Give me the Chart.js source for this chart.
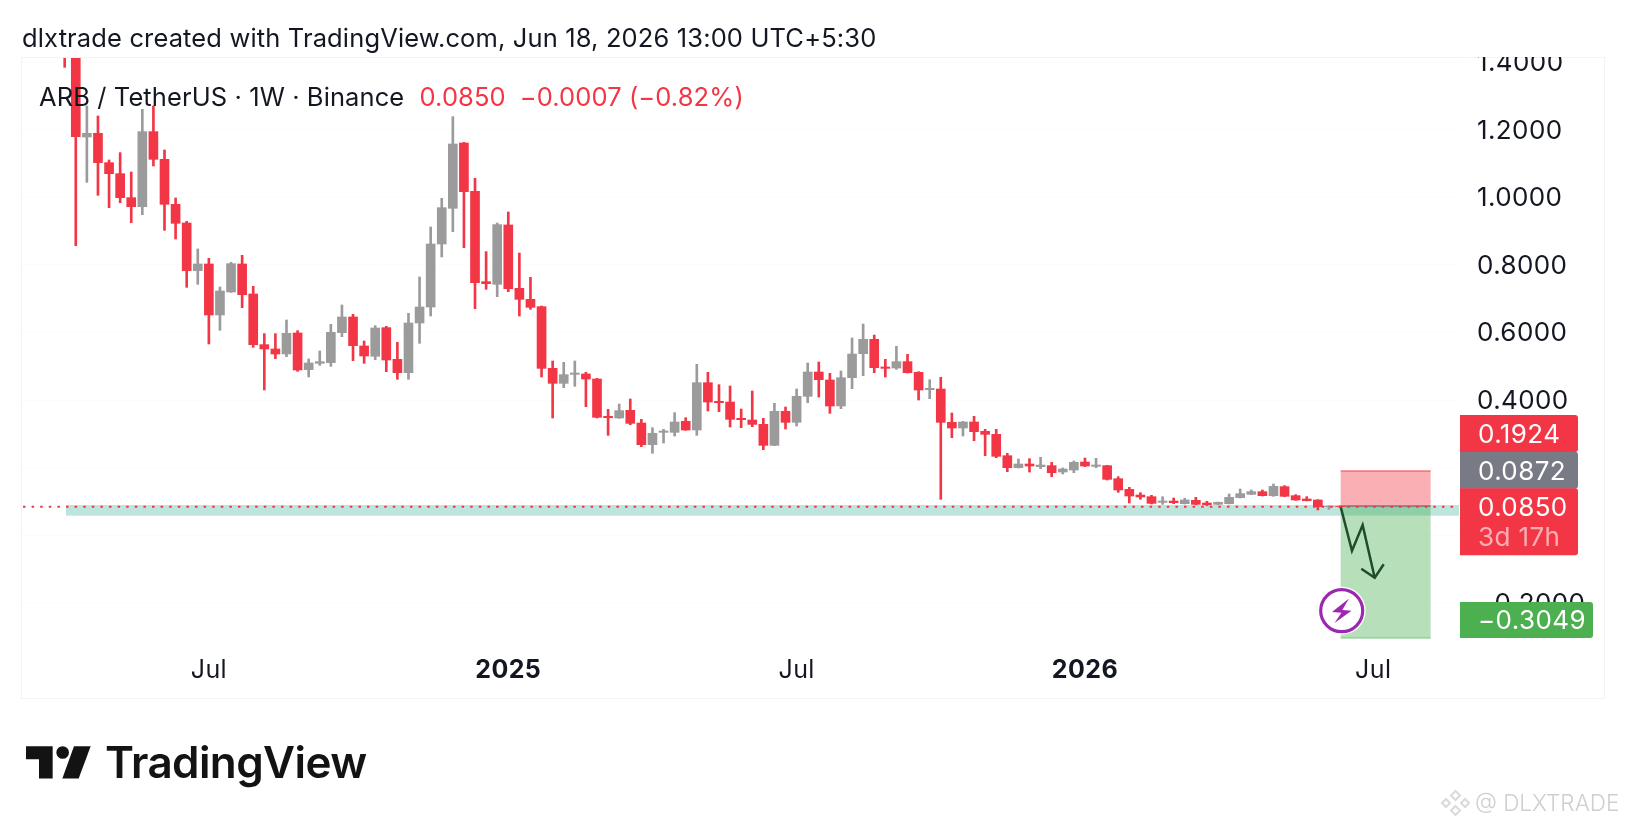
<!DOCTYPE html>
<html>
<head>
<meta charset="utf-8">
<title>ARB / TetherUS 1W</title>
<script src="https://cdn.jsdelivr.net/npm/chart.js@4/dist/chart.umd.min.js"></script>
<style>
    html, body { margin: 0; padding: 0; background: #fff; }
    body { width: 1626px; height: 828px; position: relative; overflow: hidden; font-family: Inter, sans-serif; }
    canvas { position: absolute; left: 0; top: 0; }
    .frame { position: absolute; left: 21px; top: 57px; width: 1582px; height: 640px; border: 1px solid #F3F3F3; }
    .txt { position: absolute; white-space: nowrap; line-height: 1; }
    #header { left: 22px; top: 25px; font-size: 25.5px; letter-spacing: 0.14px; color: #131722; }
    #legend { left: 39px; top: 84px; font-size: 25.5px; letter-spacing: 0.1px; color: #131722; }
    #legend span { color: #F23645; }
    #logoText { left: 105px; top: 740px; font-size: 44px; font-weight: 600; color: #131313; letter-spacing: -0.6px; }
    #logoIcon { position: absolute; left: 26px; top: 746px; }
    #mark { left: 1475px; top: 792px; font-size: 22.5px; font-weight: 300; color: #CFCFCF; }
    #markIcon { position: absolute; left: 1441px; top: 789px; }
</style>
</head>
<body>
<div class="frame"></div>
<canvas id="chart" width="1626" height="828"></canvas>
<div class="txt" id="header">dlxtrade created with TradingView.com, Jun 18, 2026 13:00 UTC+5:30</div>
<div class="txt" id="legend">ARB / TetherUS · 1W · Binance <span style="margin-left:8px">0.0850</span><span style="margin-left:14px">−0.0007 (−0.82%)</span></div>
<svg id="logoIcon" width="65" height="33" viewBox="78 258 195 98">
    <polygon fill="#131313" points="78,258 158,258 158,355 117,355 117,297 78,297"/>
    <circle fill="#131313" cx="188" cy="277" r="19"/>
    <polygon fill="#131313" points="222,258 272,258 236,355 187,355"/>
</svg>
<div class="txt" id="logoText">TradingView</div>
<svg id="markIcon" width="29" height="28" viewBox="0 0 29 28">
    <g fill="none" stroke="#DADADA" stroke-width="2">
        <polygon points="14.5,2 19,6.5 14.5,11 10,6.5"/>
        <polygon points="14.5,17 19,21.5 14.5,26 10,21.5"/>
        <polygon points="5,10 9,14 5,18 1,14"/>
        <polygon points="24,10 28,14 24,18 20,14"/>
    </g>
</svg>
<div class="txt" id="mark">@ DLXTRADE</div>

<script>
// Weekly candles, first one is the week of Apr 1 2024
const opens = [
    1.62, 1.45, 1.1787, 1.1896, 1.1028, 1.0702, 0.9992, 0.9726, 1.1945, 1.1126, 0.9795, 0.9243, 0.7833, 0.8030, 0.6521, 0.7201, 0.8030, 0.7142, 0.5643, 0.5515, 0.5367, 0.5988, 0.4904, 0.5091, 0.5111, 0.5998, 0.6462, 0.5604, 0.5298, 0.6146, 0.5209, 0.4815, 0.6284, 0.6757, 0.8621, 0.9677, 1.1610, 1.0180, 0.7507, 0.7428, 0.9184, 0.7310, 0.6984,
    0.6767, 0.4942, 0.4499, 0.4765, 0.4775, 0.4627, 0.3522, 0.3473, 0.3700, 0.3325, 0.2684, 0.3049, 0.3049, 0.3374, 0.3118, 0.4518, 0.3966, 0.3946, 0.3463, 0.3414, 0.3285, 0.2664, 0.3670, 0.3345, 0.4114, 0.4834, 0.4597, 0.3828, 0.4666, 0.5376, 0.5800, 0.4982, 0.4952, 0.5140, 0.4824, 0.4311, 0.4331, 0.3345, 0.3177, 0.3355, 0.3078, 0.2990,
    0.2358, 0.2003, 0.2112, 0.2033, 0.2063, 0.1875, 0.1934, 0.2171, 0.2043, 0.2063, 0.1678, 0.1362, 0.1195, 0.1145, 0.0978, 0.1017, 0.0939, 0.1038, 0.0959, 0.0919, 0.0939, 0.1117, 0.1215, 0.1294, 0.1176, 0.1442, 0.1176, 0.1077, 0.1048, 0.0850, 0.0857
];
const highs = [
    1.70, 1.52, 1.2705, 1.2408, 1.1107, 1.1324, 1.0752, 1.2606, 1.2705, 1.1403, 0.9982, 0.9292, 0.8474, 0.8197, 0.7349, 0.8079, 0.8286, 0.7369, 0.5969, 0.5969, 0.6373, 0.6058, 0.5219, 0.5456, 0.6245, 0.6817, 0.6541, 0.5752, 0.6205, 0.6186, 0.5712, 0.6570, 0.7645, 0.9125, 0.9972, 1.2389, 1.1629, 1.0564, 0.8395, 0.9243, 0.9568, 0.8355, 0.7635,
    0.6786, 0.5159, 0.5120, 0.5159, 0.4824, 0.4646, 0.3729, 0.3887, 0.4035, 0.3433, 0.3187, 0.3138, 0.3631, 0.3483, 0.5061, 0.4824, 0.4459, 0.4420, 0.3739, 0.4272, 0.3463, 0.3907, 0.3798, 0.4331, 0.5100, 0.5130, 0.4794, 0.4863, 0.5840, 0.6254, 0.5928, 0.5209, 0.5593, 0.5357, 0.4844, 0.4607, 0.4676, 0.3621, 0.3374, 0.3522, 0.3138, 0.3138,
    0.2427, 0.2260, 0.2270, 0.2309, 0.2161, 0.1994, 0.2201, 0.2289, 0.2280, 0.2073, 0.1737, 0.1422, 0.1264, 0.1185, 0.1145, 0.1106, 0.1097, 0.1126, 0.1008, 0.0988, 0.1225, 0.1373, 0.1343, 0.1343, 0.1521, 0.1472, 0.1205, 0.1146, 0.1057, 0.0878, 0.0870
];
const lows = [
    1.3848, 0.8572, 1.0446, 1.0061, 0.9696, 0.9844, 0.9253, 0.9489, 1.0929, 0.9026, 0.8769, 0.7339, 0.7428, 0.5663, 0.6067, 0.7191, 0.6738, 0.5564, 0.4302, 0.5229, 0.5288, 0.4854, 0.4687, 0.5032, 0.5002, 0.5880, 0.5170, 0.5091, 0.5199, 0.4844, 0.4618, 0.4618, 0.5683, 0.6491, 0.8237, 0.8986, 0.8513, 0.6708, 0.7280, 0.7063, 0.7211, 0.6491, 0.6688,
    0.4686, 0.3473, 0.4370, 0.4410, 0.3808, 0.3473, 0.2960, 0.3463, 0.3276, 0.2625, 0.2428, 0.2733, 0.2940, 0.3108, 0.2960, 0.3680, 0.3660, 0.3207, 0.3187, 0.3217, 0.2536, 0.2654, 0.3148, 0.3236, 0.3926, 0.4094, 0.3611, 0.3749, 0.4341, 0.4725, 0.4814, 0.4686, 0.4913, 0.4804, 0.4005, 0.4045, 0.1067, 0.2891, 0.2940, 0.2802, 0.2358, 0.2299,
    0.1885, 0.1994, 0.1875, 0.1974, 0.1737, 0.1816, 0.1856, 0.2033, 0.2003, 0.1639, 0.1274, 0.0958, 0.1067, 0.0929, 0.0919, 0.0938, 0.0929, 0.0909, 0.0880, 0.0909, 0.0929, 0.1107, 0.1205, 0.1166, 0.1156, 0.1146, 0.1038, 0.1018, 0.0752, 0.0771, 0.0840
];
const closes = [
    1.45, 1.1797, 1.1896, 1.1028, 1.0702, 0.9992, 0.9726, 1.1945, 1.1126, 0.9795, 0.9233, 0.7833, 0.8030, 0.6521, 0.7231, 0.8040, 0.7122, 0.5643, 0.5515, 0.5367, 0.5979, 0.4894, 0.5101, 0.5140, 0.6008, 0.6462, 0.5614, 0.5308, 0.6136, 0.5190, 0.4815, 0.6284, 0.6757, 0.8621, 0.9696, 1.1580, 1.0170, 0.7478, 0.7448, 0.9194, 0.7300, 0.6984, 0.6748,
    0.4942, 0.4499, 0.4755, 0.4804, 0.4627, 0.3493, 0.3483, 0.3690, 0.3315, 0.2684, 0.3019, 0.3088, 0.3355, 0.3118, 0.4518, 0.3946, 0.3926, 0.3433, 0.3424, 0.3285, 0.2664, 0.3670, 0.3345, 0.4114, 0.4834, 0.4607, 0.3828, 0.4666, 0.5366, 0.5800, 0.4962, 0.4942, 0.5140, 0.4814, 0.4301, 0.4351, 0.3345, 0.3177, 0.3355, 0.3068, 0.2990, 0.2339,
    0.2003, 0.2112, 0.2053, 0.2082, 0.1856, 0.1964, 0.2161, 0.2053, 0.2082, 0.1658, 0.1343, 0.1165, 0.1136, 0.0948, 0.1017, 0.0968, 0.1048, 0.0919, 0.0909, 0.0979, 0.1126, 0.1235, 0.1294, 0.1176, 0.1452, 0.1156, 0.1048, 0.1028, 0.0850, 0.0857, 0.0850
];

// Axis labels
const yTicks = [1.4, 1.2, 1.0, 0.8, 0.6, 0.4, 0.2, 0, -0.2];
const xTickWeeks = [13, 40, 66, 92, 118];
const xTickLabels = ['Jul', '2025', 'Jul', '2026', 'Jul'];

// Drawings on the chart
const lastPrice = 0.0850;
const bandPrices = [0.0899, 0.0583];
const bandWeeks = [0.12, 125.73];
const boxPrices = [0.1924, 0.0872, -0.3049];
const boxWeeks = [115.06, 123.17];
const arrowWeeks = [115.06, 116.08, 117.04, 118.13];
const arrowPrices = [0.0849, -0.0453, 0.0308, -0.1251];
const headWeeks = [116.92, 118.13, 118.94];
const headPrices = [-0.0985, -0.1251, -0.0855];

const RED = '#F23645';
const GRAY = '#9B9B9B';
const FONT = 'Inter, sans-serif';

const candleColors = opens.map((o, i) => closes[i] < o ? RED : GRAY);

function formatPrice(v) {
    return (v < 0 ? '−' : '') + Math.abs(v).toFixed(4);
}

function roundedRight(ctx, x, y, w, h, r) {
    ctx.beginPath();
    ctx.roundRect(x, y, w, h, [0, r, r, 0]);
    ctx.fill();
}

const drawings = {
    id: 'drawings',
    beforeDraw(chart) {
        // the app's tick font is a bit wider than Inter
        chart.ctx.letterSpacing = '0.4px';
        // and sits a pixel lower
        chart.scales.y.getLabelItems().forEach(item => { item.options.translation[1] += 1; });
    },
    beforeDatasetsDraw(chart) {
        const { ctx, scales: { x, y } } = chart;
        ctx.save();
        // support band
        ctx.fillStyle = '#BDE5DE';
        ctx.fillRect(x.getPixelForValue(bandWeeks[0]), y.getPixelForValue(bandPrices[0]),
            x.getPixelForValue(bandWeeks[1]) - x.getPixelForValue(bandWeeks[0]),
            y.getPixelForValue(bandPrices[1]) - y.getPixelForValue(bandPrices[0]));

        // short position box
        const left = x.getPixelForValue(boxWeeks[0]);
        const width = x.getPixelForValue(boxWeeks[1]) - left;
        const top = y.getPixelForValue(boxPrices[0]);
        const mid = y.getPixelForValue(boxPrices[1]);
        const bottom = y.getPixelForValue(boxPrices[2]);
        ctx.fillStyle = 'rgba(242, 54, 69, 0.4)';
        ctx.fillRect(left, top, width, mid - top);
        ctx.fillStyle = 'rgba(76, 175, 80, 0.4)';
        ctx.fillRect(left, mid, width, bottom - mid);
        ctx.fillStyle = 'rgba(242, 54, 69, 0.5)';
        ctx.fillRect(left, top, width, 1.5);
        ctx.fillStyle = 'rgba(76, 175, 80, 0.5)';
        ctx.fillRect(left, bottom - 1, width, 1);
        ctx.fillStyle = '#787B86';
        ctx.fillRect(left, mid - 0.5, width, 1.5);
        ctx.restore();
    },
    afterDatasetsDraw(chart) {
        const { ctx, chartArea, scales: { y } } = chart;
        ctx.save();
        // last price dotted line
        const py = y.getPixelForValue(lastPrice);
        ctx.strokeStyle = RED;
        ctx.lineWidth = 2;
        ctx.setLineDash([2.5, 6.1]);
        ctx.beginPath();
        ctx.moveTo(chartArea.left + 1, py);
        ctx.lineTo(chartArea.right, py);
        ctx.stroke();
        ctx.setLineDash([]);
        ctx.restore();
    },
    afterDraw(chart) {
        const { ctx } = chart;
        ctx.save();
        // price scale is cut off at the top of the pane
        ctx.fillStyle = '#fff';
        ctx.fillRect(1465, 40, 130, 17);

        // bolt icon
        ctx.beginPath();
        ctx.arc(1341.7, 610.7, 24, 0, Math.PI * 2);
        ctx.fillStyle = '#fff';
        ctx.fill();
        ctx.beginPath();
        ctx.arc(1341.7, 610.7, 21, 0, Math.PI * 2);
        ctx.strokeStyle = '#9C27B0';
        ctx.lineWidth = 3.2;
        ctx.stroke();
        ctx.fillStyle = '#9C27B0';
        ctx.beginPath();
        ctx.moveTo(1349, 598.5);
        ctx.lineTo(1332, 612);
        ctx.lineTo(1341.5, 612.7);
        ctx.lineTo(1334.5, 623);
        ctx.lineTo(1351.5, 610.7);
        ctx.lineTo(1342.3, 610);
        ctx.closePath();
        ctx.fill();

        // price badges
        ctx.fillStyle = RED;
        roundedRight(ctx, 1460, 415, 118, 37, 3);
        ctx.fillStyle = '#787B86';
        roundedRight(ctx, 1460, 451.7, 118, 37, 3);
        ctx.fillStyle = RED;
        roundedRight(ctx, 1460, 488.3, 118, 67, 3);
        ctx.fillStyle = '#4CAF50';
        roundedRight(ctx, 1460, 602, 133, 36, 3);

        ctx.font = '26px ' + FONT;
        ctx.textAlign = 'left';
        ctx.textBaseline = 'middle';
        ctx.fillStyle = '#fff';
        ctx.fillText(formatPrice(boxPrices[0]), 1478, 435);
        ctx.fillText(formatPrice(boxPrices[1]), 1478, 472);
        ctx.fillText(formatPrice(lastPrice), 1478, 508.5);
        ctx.fillText(formatPrice(boxPrices[2]), 1478, 621.5);
        ctx.fillStyle = 'rgba(255, 255, 255, 0.6)';
        ctx.fillText('3d 17h', 1478, 538.5);
        ctx.restore();
    }
};

new Chart(document.getElementById('chart').getContext('2d'), {
    type: 'bar',
    data: {
        datasets: [
            {
                type: 'line',
                data: arrowWeeks.map((w, i) => ({ x: w, y: arrowPrices[i] })),
                borderColor: '#1E4D2B',
                borderWidth: 2.5,
                pointRadius: 0,
                tension: 0,
                order: 0
            },
            {
                type: 'line',
                data: headWeeks.map((w, i) => ({ x: w, y: headPrices[i] })),
                borderColor: '#1E4D2B',
                borderWidth: 2.5,
                pointRadius: 0,
                tension: 0,
                order: 0
            },
            {
                // bodies
                data: opens.map((o, i) => ({ x: i, y: [o, closes[i]] })),
                backgroundColor: candleColors,
                barThickness: 9,
                order: 1
            },
            {
                // wicks
                data: lows.map((l, i) => ({ x: i, y: [l, highs[i]] })),
                backgroundColor: candleColors,
                barThickness: 2,
                order: 2
            }
        ]
    },
    options: {
        responsive: false,
        animation: false,
        layout: { padding: { left: 22, top: 58, right: 22, bottom: 130 } },
        plugins: { legend: { display: false }, tooltip: { enabled: false }, title: { display: false } },
        datasets: { bar: { grouped: false, borderWidth: 0, borderSkipped: false } },
        scales: {
            x: {
                type: 'linear',
                offset: false,
                min: -3.85,
                max: 125.73,
                afterBuildTicks: axis => { axis.ticks = xTickWeeks.map(v => ({ value: v })); },
                afterFit: axis => { axis.height = 56; },
                grid: { display: false, drawTicks: false },
                border: { display: false },
                ticks: {
                    autoSkip: false,
                    maxRotation: 0,
                    padding: 13.5,
                    color: '#131722',
                    font: ctx => ({ family: FONT, size: 25, weight: /^\d/.test(xTickLabels[ctx.index]) ? '700' : '400' }),
                    callback: (v, i) => xTickLabels[i]
                }
            },
            y: {
                position: 'right',
                min: -0.3154,
                max: 1.4124,
                afterBuildTicks: axis => { axis.ticks = yTicks.map(v => ({ value: v })); },
                afterFit: axis => { axis.width = 145; },
                grid: { color: '#FCFCFC', drawTicks: false },
                border: { display: false },
                ticks: {
                    autoSkip: false,
                    crossAlign: 'near',
                    padding: 18,
                    color: '#131722',
                    font: { family: FONT, size: 26 },
                    callback: v => formatPrice(v)
                }
            }
        }
    },
    plugins: [drawings]
});
</script>
</body>
</html>
